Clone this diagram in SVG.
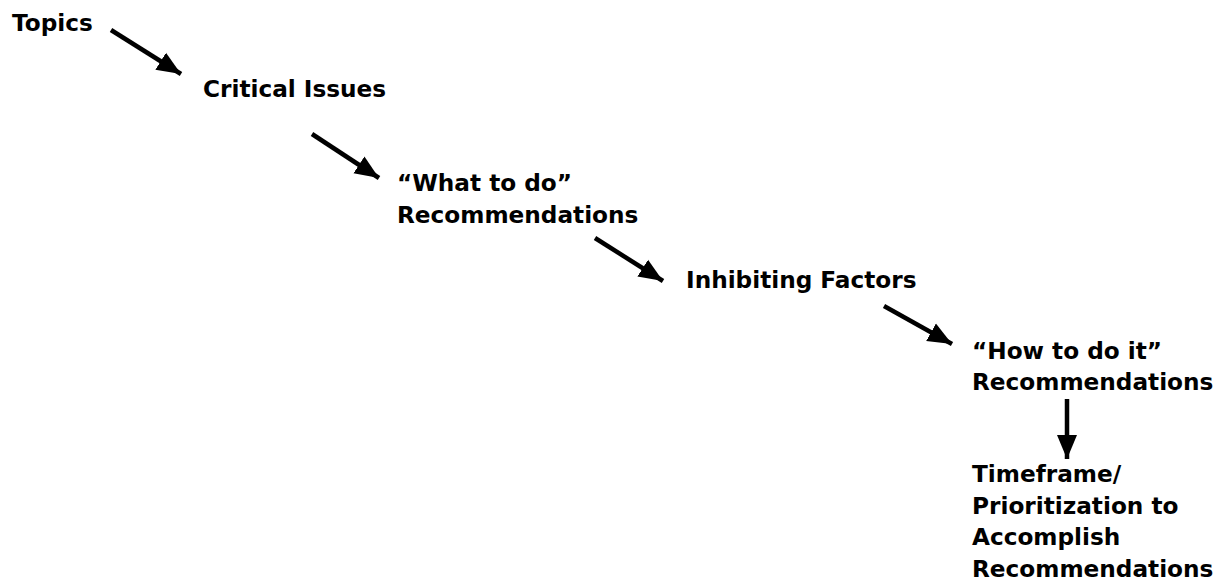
<svg xmlns="http://www.w3.org/2000/svg" width="1225" height="581" viewBox="0 0 1225 581">
<style>
.t{font-family:"DejaVu Sans","Liberation Sans",sans-serif;font-weight:bold;font-size:23.2px;fill:#000}
.c{stroke:#000;stroke-width:4.5;fill:none}
</style>
<defs>
<marker id="ah" markerUnits="userSpaceOnUse" markerWidth="26" markerHeight="22" viewBox="0 0 26 22" refX="24" refY="11" orient="auto">
<path d="M0,1 L24,11 L0,21 Z" fill="#000"/>
</marker>
</defs>
<rect width="1225" height="581" fill="#fff"/>
<g id="n-topics"><text class="t" x="12" y="31">Topics</text></g>
<g id="n-critical"><text class="t" x="203" y="97">Critical Issues</text></g>
<g id="n-what"><text class="t" x="397" y="191">“What to do”</text><text class="t" x="397" y="223">Recommendations</text></g>
<g id="n-inhibiting"><text class="t" x="686" y="288">Inhibiting Factors</text></g>
<g id="n-how"><text class="t" x="972" y="359">“How to do it”</text><text class="t" x="972" y="390">Recommendations</text></g>
<g id="n-timeframe"><text class="t" x="972" y="482">Timeframe/</text><text class="t" x="972" y="513.5">Prioritization to</text><text class="t" x="972" y="545">Accomplish</text><text class="t" x="972" y="576.5">Recommendations</text></g>
<g id="connectors">
<line class="c" x1="111" y1="30" x2="181" y2="74" marker-end="url(#ah)"/>
<line class="c" x1="312" y1="134" x2="379" y2="178" marker-end="url(#ah)"/>
<line class="c" x1="595" y1="238" x2="663" y2="281" marker-end="url(#ah)"/>
<line class="c" x1="884" y1="306" x2="952" y2="344" marker-end="url(#ah)"/>
<line class="c" x1="1067" y1="399" x2="1067" y2="459" marker-end="url(#ah)"/>
</g>
</svg>
